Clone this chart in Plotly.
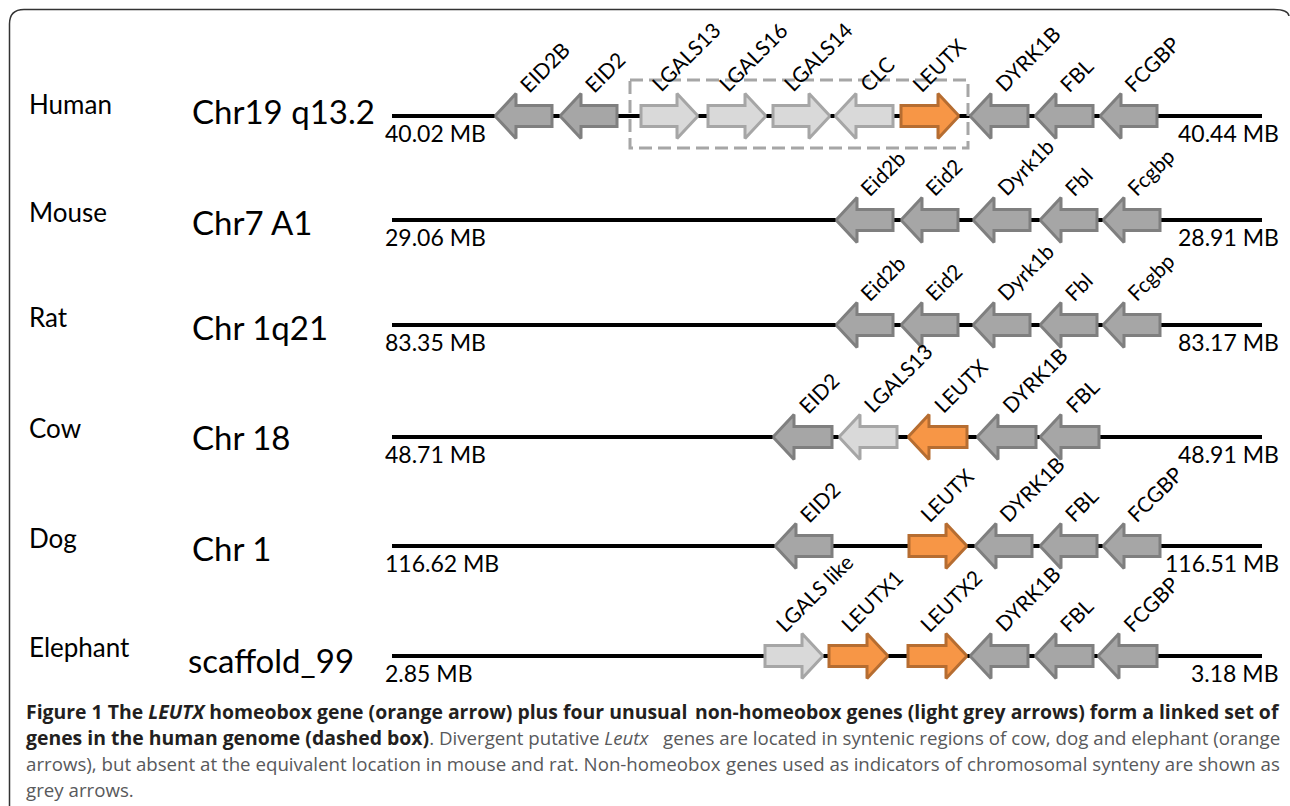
import plotly.graph_objects as go

# ---------------- data ----------------
SPECIES = ["Human", "Mouse", "Rat", "Cow", "Dog", "Elephant"]
CHROMOSOMES = ["Chr19 q13.2", "Chr7 A1", "Chr 1q21", "Chr 18", "Chr 1", "scaffold_99"]
START_MB = ["40.02 MB", "29.06 MB", "83.35 MB", "48.71 MB", "116.62 MB", "2.85 MB"]
END_MB = ["40.44 MB", "28.91 MB", "83.17 MB", "48.91 MB", "116.51 MB", "3.18 MB"]

# gene positions along the schematic chromosome (schematic units), direction (+1 right, -1 left), kind
HUMAN_GENES = ["EID2B", "EID2", "LGALS13", "LGALS16", "LGALS14", "CLC", "LEUTX", "DYRK1B", "FBL", "FCGBP"]
HUMAN_START = [495, 560, 641, 708, 773, 835, 901, 970, 1035, 1100]
HUMAN_END = [552, 617, 698, 766, 830, 893, 959, 1028, 1093, 1157]
HUMAN_DIR = [-1, -1, 1, 1, 1, -1, 1, -1, -1, -1]
HUMAN_KIND = ["grey", "grey", "light", "light", "light", "light", "orange", "grey", "grey", "grey"]

MOUSE_GENES = ["Eid2b", "Eid2", "Dyrk1b", "Fbl", "Fcgbp"]
MOUSE_START = [836, 901, 973, 1040, 1103]
MOUSE_END = [893, 958, 1030, 1097, 1160]
MOUSE_DIR = [-1, -1, -1, -1, -1]
MOUSE_KIND = ["grey", "grey", "grey", "grey", "grey"]

RAT_GENES = ["Eid2b", "Eid2", "Dyrk1b", "Fbl", "Fcgbp"]
RAT_START = [836, 901, 973, 1040, 1103]
RAT_END = [893, 958, 1030, 1097, 1160]
RAT_DIR = [-1, -1, -1, -1, -1]
RAT_KIND = ["grey", "grey", "grey", "grey", "grey"]

COW_GENES = ["EID2", "LGALS13", "LEUTX", "DYRK1B", "FBL"]
COW_START = [773, 839, 908, 977, 1040]
COW_END = [832, 897, 967, 1036, 1099]
COW_DIR = [-1, -1, -1, -1, -1]
COW_KIND = ["grey", "light", "orange", "grey", "grey"]

DOG_GENES = ["EID2", "LEUTX", "DYRK1B", "FBL", "FCGBP"]
DOG_START = [775, 909, 975, 1040, 1103]
DOG_END = [832, 967, 1032, 1097, 1160]
DOG_DIR = [-1, 1, -1, -1, -1]
DOG_KIND = ["grey", "orange", "grey", "grey", "grey"]

ELEPHANT_GENES = ["LGALS like", "LEUTX1", "LEUTX2", "DYRK1B", "FBL", "FCGBP"]
ELEPHANT_START = [765, 829, 908, 970, 1035, 1098]
ELEPHANT_END = [823, 888, 967, 1028, 1093, 1157]
ELEPHANT_DIR = [1, 1, 1, -1, -1, -1]
ELEPHANT_KIND = ["light", "orange", "orange", "grey", "grey", "grey"]

BOXED_HUMAN_GENES = ["LGALS13", "LGALS16", "LGALS14", "CLC", "LEUTX"]

GENES = [HUMAN_GENES, MOUSE_GENES, RAT_GENES, COW_GENES, DOG_GENES, ELEPHANT_GENES]
STARTS = [HUMAN_START, MOUSE_START, RAT_START, COW_START, DOG_START, ELEPHANT_START]
ENDS = [HUMAN_END, MOUSE_END, RAT_END, COW_END, DOG_END, ELEPHANT_END]
DIRS = [HUMAN_DIR, MOUSE_DIR, RAT_DIR, COW_DIR, DOG_DIR, ELEPHANT_DIR]
KINDS = [HUMAN_KIND, MOUSE_KIND, RAT_KIND, COW_KIND, DOG_KIND, ELEPHANT_KIND]

BOLD_COLOR = "#231f20"
B0 = '<span style="font-weight:bold;font-size:19.4px;color:%s">' % BOLD_COLOR
B1 = "</span>"
CAPTION_LINES = [
    (B0 + "Figure 1 The <i>LEUTX</i> homeobox gene (orange arrow) plus four unusual" + B1,
     B0 + "non-homeobox genes (light grey arrows) form a linked set of" + B1),
    (B0 + "genes in the human genome (dashed box)" + B1 + ". Divergent putative <i>Leutx</i>",
     "genes are located in syntenic regions of cow, dog and elephant (orange"),
    ("arrows), but absent at the equivalent location in mouse and rat. Non-homeobox",
     "genes used as indicators of chromosomal synteny are shown as"),
    ("grey arrows.", None),
]

# ---------------- layout / style ----------------
W, H = 1290, 806
ROW_Y = [116, 220, 325, 437, 546, 656]
LINE_X0, LINE_X1 = 392, 1262
SPECIES_DY = [-12, -8, -8, -9, -8, -9]
CHR_DY = [-5, 2, 2, 0, 2, 4]
CHR_X = [190, 190, 190, 190, 190, 186]
HEAD_LEN, HEAD_HALF, BODY_HALF = 21, 22.5, 10.5
STYLE = {
    "grey": ("#a6a6a6", "#7f7f7f"),
    "light": ("#d9d9d9", "#a6a6a6"),
    "orange": ("#f79646", "#b66d31"),
}
DIAG_FONT = "Lato"
CAP_FONT = "Open Sans"

fig = go.Figure()

# chromosome lines
lx, ly = [], []
for y in ROW_Y:
    lx += [LINE_X0, LINE_X1, None]
    ly += [y, y, None]
fig.add_trace(go.Scatter(x=lx, y=ly, mode="lines", line=dict(color="black", width=4),
                         hoverinfo="skip", showlegend=False))


def arrow(x0, x1, d, y):
    if d < 0:
        t, b = x0, x1
        hb = t + HEAD_LEN
    else:
        t, b = x1, x0
        hb = t - HEAD_LEN
    xs = [t, hb, hb, b, b, hb, hb, t]
    ys = [y, y - HEAD_HALF, y - BODY_HALF, y - BODY_HALF, y + BODY_HALF, y + BODY_HALF, y + HEAD_HALF, y]
    return xs, ys


polys = {k: ([], []) for k in STYLE}
annotations = []
for r in range(len(SPECIES)):
    y = ROW_Y[r]
    for name, s, e, d, k in zip(GENES[r], STARTS[r], ENDS[r], DIRS[r], KINDS[r]):
        xs, ys = arrow(s, e, d, y)
        polys[k][0].extend(xs + [None])
        polys[k][1].extend(ys + [None])
        cx = (s + e) / 2
        off = 3 if d < 0 else -11
        annotations.append(dict(x=cx + off - 15, y=y - 17, text=name, textangle=-45,
                                xanchor="left", yanchor="bottom", showarrow=False,
                                font=dict(family=DIAG_FONT, size=21, color="black")))

for k, (xs, ys) in polys.items():
    fill, stroke = STYLE[k]
    fig.add_trace(go.Scatter(x=xs, y=ys, mode="lines", fill="toself", fillcolor=fill,
                             line=dict(color=stroke, width=3), hoverinfo="skip", showlegend=False))

# dashed box around the human linked set
bi = [HUMAN_GENES.index(g) for g in BOXED_HUMAN_GENES]
bx0 = min(HUMAN_START[i] for i in bi) - 11
bx1 = max(HUMAN_END[i] for i in bi) + 9
shapes = [dict(type="rect", xref="x", yref="y", x0=bx0, x1=bx1, y0=ROW_Y[0] - 36, y1=ROW_Y[0] + 32,
               line=dict(color="#a6a6a6", width=3, dash="13px,6px"), layer="above")]

# frame
shapes.append(dict(type="path", xref="x", yref="y",
                   path="M 9.5,806 L 9.5,24 Q 9.5,9.5 24,9.5 L 1274,9.5 Q 1288,9.5 1289,16",
                   line=dict(color="#333333", width=1.5)))

for r in range(len(SPECIES)):
    y = ROW_Y[r]
    annotations.append(dict(x=27, y=y + SPECIES_DY[r], text=SPECIES[r], xanchor="left", yanchor="middle",
                            showarrow=False, font=dict(family=DIAG_FONT, size=26, color="black")))
    annotations.append(dict(x=CHR_X[r], y=y + CHR_DY[r], text=CHROMOSOMES[r], xanchor="left", yanchor="middle",
                            showarrow=False, font=dict(family=DIAG_FONT, size=33, color="black")))
    annotations.append(dict(x=383, y=y + 17, text=START_MB[r], xanchor="left", yanchor="middle",
                            showarrow=False, font=dict(family=DIAG_FONT, size=23, color="black")))
    annotations.append(dict(x=1281, y=y + 17, text=END_MB[r], xanchor="right", yanchor="middle",
                            showarrow=False, font=dict(family=DIAG_FONT, size=23, color="black")))

CAP_Y = [711, 737.5, 763.5, 789.5]
for (left, right), cy in zip(CAPTION_LINES, CAP_Y):
    annotations.append(dict(x=24, y=cy, text=left, xanchor="left", yanchor="middle", showarrow=False,
                            font=dict(family=CAP_FONT, size=18.7, color="#58595b")))
    if right:
        annotations.append(dict(x=1282, y=cy, text=right, xanchor="right", yanchor="middle", showarrow=False,
                                font=dict(family=CAP_FONT, size=18.7, color="#58595b")))

fig.update_layout(
    width=W, height=H, margin=dict(l=0, r=0, t=0, b=0),
    paper_bgcolor="white", plot_bgcolor="white",
    xaxis=dict(range=[0, W], visible=False, fixedrange=True),
    yaxis=dict(range=[H, 0], visible=False, fixedrange=True),
    shapes=shapes, annotations=annotations, showlegend=False,
)

fig.write_html("out.html", config={"displayModeBar": False},
               post_script="document.body.style.margin='0px';document.body.style.overflow='hidden';")
